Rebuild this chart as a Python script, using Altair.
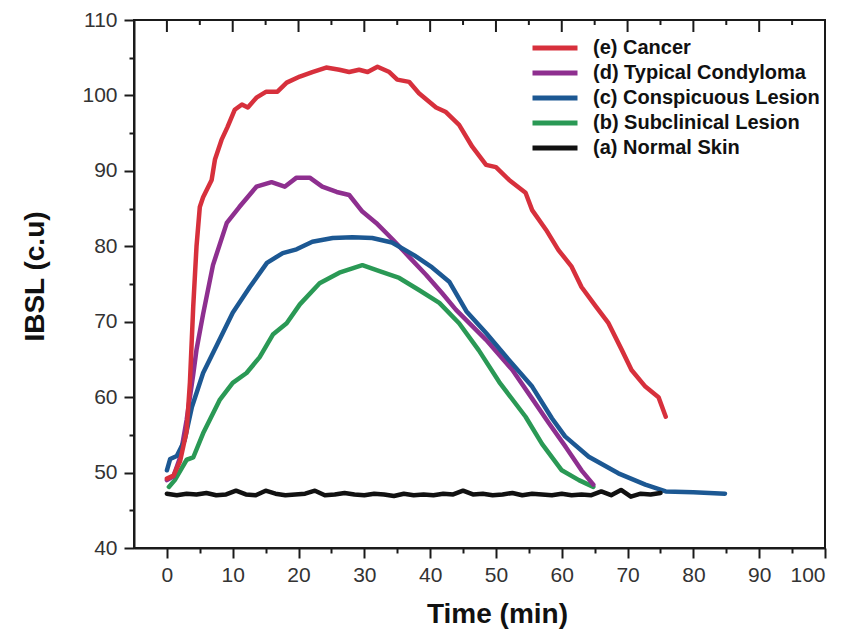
import altair as alt
import pandas as pd

# ---------------- data ----------------
series_labels = ["(e) Cancer", "(d) Typical Condyloma", "(c) Conspicuous Lesion",
                 "(b) Subclinical Lesion", "(a) Normal Skin"]
series_colors = ["#d7303c", "#8e2f8f", "#1c5893", "#2a9955", "#111111"]

cancer_t = [0, 1, 2, 3, 3.5, 4, 4.5, 5, 5.5, 6.8, 7.3, 8.3, 9.2, 10.3, 11.4, 12.3, 13.6,
            15.1, 16.8, 18.2, 20.2, 22.1, 24.2, 26.2, 27.7, 29.2, 30.5, 32, 33.8, 35,
            36.8, 38.3, 40.9, 42.4, 44.4, 46.4, 48.5, 50, 52, 54.5, 55.5, 57.6, 59.5,
            61.5, 63, 65.2, 67.1, 69.1, 70.6, 72.7, 74.7, 75.8]
cancer_v = [49.2, 49.6, 51.5, 55.5, 62, 72, 80, 85.2, 86.5, 88.8, 91.5, 94.1, 95.8, 98.1,
            98.8, 98.4, 99.7, 100.5, 100.5, 101.7, 102.5, 103.1, 103.7, 103.4, 103.1,
            103.4, 103.1, 103.8, 103.1, 102.1, 101.8, 100.3, 98.4, 97.8, 96.1, 93.2,
            90.8, 90.5, 88.8, 87.1, 84.8, 82.2, 79.5, 77.3, 74.6, 72, 69.8, 66.3, 63.6,
            61.4, 60, 57.4]

condyloma_t = [0, 1, 2, 3, 4, 4.5, 5.5, 7, 9.1, 11, 13.6, 15.9, 17.9, 19.7, 21.7, 23.6,
               25.8, 27.7, 29.7, 31.8, 34.2, 36.8, 39.4, 41.8, 43.9, 48.5, 52.5, 55.5,
               58, 60.6, 63, 64.8]
condyloma_v = [49.0, 49.5, 52, 57, 63, 66.3, 71, 77.5, 83.1, 85.2, 87.9, 88.5, 87.9,
               89.1, 89.1, 87.9, 87.2, 86.8, 84.6, 83.1, 81.0, 78.6, 76.2, 73.8, 71.6,
               67.6, 63.6, 59.8, 56.6, 53.4, 50.3, 48.4]

conspicuous_t = [0, 0.5, 1.5, 2.7, 3.8, 5.5, 7.6, 10, 12.6, 15.2, 17.6, 19.7, 22.1, 25.2,
                 28.2, 31.2, 34.2, 37.6, 40.3, 42.9, 45.5, 48.5, 52, 55.5, 58.5, 60.5,
                 64.1, 68.6, 72.7, 75.8, 80, 84.8]
conspicuous_v = [50.3, 51.8, 52.2, 54.3, 58.7, 63.2, 66.9, 71.2, 74.6, 77.8, 79.1, 79.6,
                 80.6, 81.1, 81.2, 81.1, 80.5, 78.8, 77.2, 75.3, 71.4, 68.5, 64.9, 61.4,
                 57.2, 54.8, 52.1, 49.9, 48.4, 47.5, 47.4, 47.2]

subclinical_t = [0.3, 1.2, 3, 4, 5.5, 8, 10, 12.1, 14.1, 16.1, 18.2, 20.2, 23.2, 26.2,
                 29.7, 32.3, 35.3, 38.3, 41.4, 44.4, 47.4, 50.5, 54.5, 57, 60, 62.6, 64.8]
subclinical_v = [48.1, 49, 51.7, 52, 55.2, 59.6, 61.9, 63.2, 65.3, 68.3, 69.8, 72.3,
                 75.1, 76.5, 77.5, 76.7, 75.8, 74.2, 72.5, 69.8, 66.2, 62.0, 57.4, 53.8,
                 50.3, 49, 48.1]

normal_t = [0, 1.5, 3, 4.5, 6, 7.5, 9, 10.5, 12, 13.5, 15, 16.5, 18, 19.5, 21, 22.5, 24,
            25.5, 27, 28.5, 30, 31.5, 33, 34.5, 36, 37.5, 39, 40.5, 42, 43.5, 45, 46.5,
            48, 49.5, 51, 52.5, 54, 55.5, 57, 58.5, 60, 61.5, 63, 64.5, 66, 67.5, 69,
            70.5, 72, 73.5, 75]
normal_v = [47.2, 47.0, 47.2, 47.1, 47.3, 47.0, 47.1, 47.6, 47.1, 47.0, 47.6, 47.2, 47.0,
            47.1, 47.2, 47.6, 47.0, 47.1, 47.3, 47.1, 47.0, 47.2, 47.1, 46.9, 47.2, 47.0,
            47.1, 47.0, 47.2, 47.1, 47.6, 47.1, 47.2, 47.0, 47.1, 47.3, 47.0, 47.2, 47.1,
            47.0, 47.2, 47.0, 47.1, 47.0, 47.5, 47.0, 47.7, 46.8, 47.2, 47.1, 47.3]

x_major_ticks = [0, 10, 20, 30, 40, 50, 60, 70, 80, 90, 100]
x_minor_ticks = [5, 15, 25, 35, 45, 55, 65, 75, 85, 95]
x_all_ticks = sorted(x_major_ticks + x_minor_ticks)
y_all_ticks = [40, 45, 50, 55, 60, 65, 70, 75, 80, 85, 90, 95, 100, 105, 110]

# ---------------- table ----------------
rows = []
for label, ts, vs in [
    (series_labels[0], cancer_t, cancer_v),
    (series_labels[1], condyloma_t, condyloma_v),
    (series_labels[2], conspicuous_t, conspicuous_v),
    (series_labels[3], subclinical_t, subclinical_v),
    (series_labels[4], normal_t, normal_v),
]:
    for t, v in zip(ts, vs):
        rows.append({"series": label, "t": t, "v": v})
df = pd.DataFrame(rows)

FONT = "Liberation Sans"
INK = "#1a1a1a"

x_scale = alt.Scale(domain=[-5, 100], nice=False, zero=False)
y_scale = alt.Scale(domain=[40, 110], nice=False, zero=False)

x_axis = alt.Axis(
    values=x_all_ticks,
    labelExpr="datum.value % 10 === 0 ? datum.label : ''",
    tickSize={"condition": {"test": "datum.value % 10 === 0", "value": 10}, "value": 5},
    labelPadding=6,
    grid=False,
    title="Time (min)",
    titleX=363, titleY=74, titleAlign="center", titleBaseline="alphabetic",
)
y_axis = alt.Axis(
    values=y_all_ticks,
    labelExpr="datum.value % 10 === 0 ? datum.label : ''",
    tickSize={"condition": {"test": "datum.value % 10 === 0", "value": 10}, "value": 5},
    labelPadding=7,
    grid=False,
    title="IBSL (c.u)",
    titleAngle=270, titleX=-91, titleY=256, titleAlign="center",
    titleBaseline="alphabetic",
)

color = alt.Color(
    "series:N",
    scale=alt.Scale(domain=series_labels, range=series_colors),
    legend=alt.Legend(
        orient="none", legendX=396, legendY=18, title=None,
        symbolType="M-1,0H5", symbolSize=225, symbolStrokeWidth=5,
        labelFont=FONT, labelFontSize=20, labelFontWeight="bold", labelColor="#111111",
        labelOffset=43, rowPadding=5, padding=0, labelLimit=400,
    ),
)

base = alt.Chart(df).mark_line(strokeWidth=4.5, strokeJoin="round", strokeCap="round").encode(
    x=alt.X("t:Q", scale=x_scale, axis=x_axis),
    y=alt.Y("v:Q", scale=y_scale, axis=y_axis),
    color=color,
)

draw_order = [series_labels[3], series_labels[1], series_labels[2], series_labels[0], series_labels[4]]
line_layers = [base.transform_filter(alt.datum.series == s) for s in draw_order]

top_major = alt.Chart(pd.DataFrame({"t": x_major_ticks})).mark_rule(
    color=INK, strokeWidth=2).encode(
    x=alt.X("t:Q", scale=x_scale, axis=x_axis), y=alt.value(0), y2=alt.value(12))
top_minor = alt.Chart(pd.DataFrame({"t": x_minor_ticks})).mark_rule(
    color=INK, strokeWidth=2).encode(
    x=alt.X("t:Q", scale=x_scale, axis=x_axis), y=alt.value(0), y2=alt.value(5))

chart = alt.layer(*line_layers, top_major, top_minor).properties(
    width=691, height=528,
    autosize="none",
    padding={"left": 126, "top": 12, "right": 12, "bottom": 82},
    background="white",
).configure_view(
    stroke=INK, strokeWidth=2,
).configure_axis(
    domainColor=INK, domainWidth=2, tickColor=INK, tickWidth=2,
    labelFont=FONT, labelFontSize=21, labelColor="#333333",
    titleFont=FONT, titleFontSize=28, titleFontWeight="bold", titleColor="#111111",
)

chart.save("out.html", embed_options={"renderer": "svg", "actions": False})
